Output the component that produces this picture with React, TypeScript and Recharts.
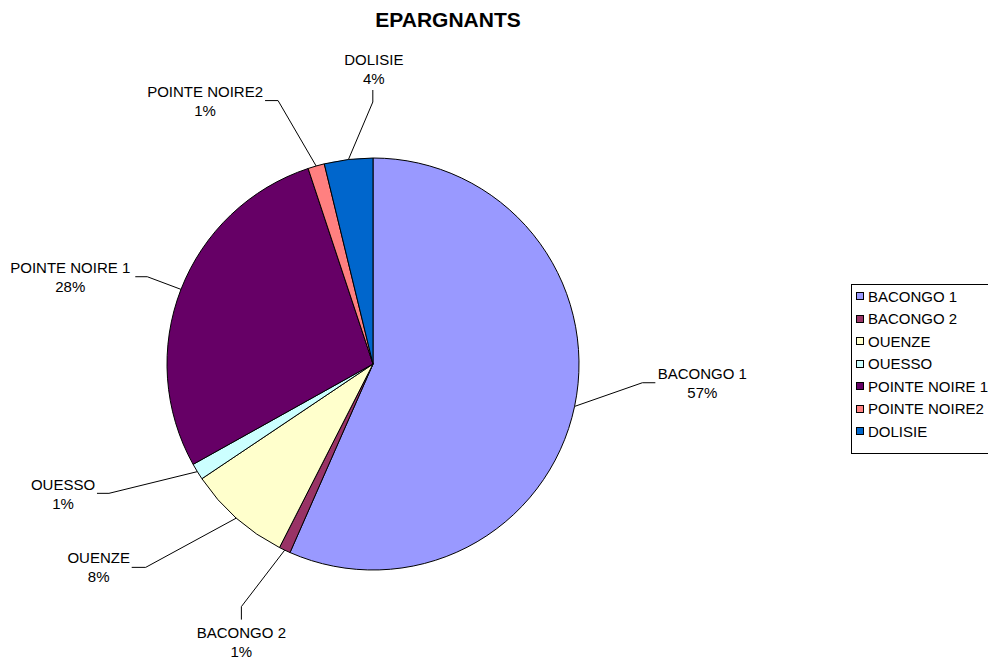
import React from "react";
import {Legend, Pie, PieChart} from "recharts";

const regions = ["BACONGO 1", "BACONGO 2", "OUENZE", "OUESSO", "POINTE NOIRE 1", "POINTE NOIRE2", "DOLISIE"];
const shares = [56.6, 0.9, 8.1, 1.3, 28.0, 1.3, 3.8];
const colors = ["#9999FF", "#993366", "#FFFFCC", "#CCFFFF", "#660066", "#FF8080", "#0066CC"];

// leader lines: angle nudge off the slice middle, elbow radius, tail, label centre from elbow
const labelLayout = [
  {nudge: -7.9, radius: 270, tail: [13, 0], text: [60, -9]},
  {nudge: 3.1, radius: 276, tail: [0, 13], text: [0, 26]},
  {nudge: 6.6, radius: 305, tail: [-14, 0], text: [-47, -9]},
  {nudge: 5.4, radius: 294, tail: [-12, 0], text: [-46, -8]},
  {nudge: -0.1, radius: 242, tail: [-12, 0], text: [-77, -9]},
  {nudge: -3.8, radius: 280, tail: [-13, 0], text: [-73, -9]},
  {nudge: 6.8, radius: 262, tail: [0, -12], text: [1, -42]},
];

const pieData = regions.map((name, i) => ({name, value: shares[i], fill: colors[i]}));

const FONT = "'Liberation Sans', Arial, sans-serif";

const polar = (cx: number, cy: number, r: number, deg: number) => {
  const a = (deg * Math.PI) / 180;
  return {x: cx + r * Math.sin(a), y: cy - r * Math.cos(a)};
};

const renderLabel = (props: any) => {
  const {cx, cy, midAngle, outerRadius, percent, name, index} = props;
  const layout = labelLayout[index];
  const angle = 90 - midAngle; // clockwise from 12 o'clock
  const start = polar(cx, cy, outerRadius, angle);
  const elbow = polar(cx, cy, layout.radius, angle + layout.nudge);
  const end = {x: elbow.x + layout.tail[0], y: elbow.y + layout.tail[1]};
  const tx = elbow.x + layout.text[0];
  const ty = elbow.y + layout.text[1];

  return (
    <g>
      <polyline points={`${start.x},${start.y} ${elbow.x},${elbow.y} ${end.x},${end.y}`} fill="none" stroke="#000" strokeWidth={1} />
      <text x={tx} y={ty} textAnchor="middle" fontFamily={FONT} fontSize={15} fill="#000">
        <tspan x={tx} dy={5}>{name}</tspan>
        <tspan x={tx} dy={19}>{`${Math.round(percent * 100)}%`}</tspan>
      </text>
    </g>
  );
};

const LegendBox = ({payload}: any) => {
  const items = [...(payload || [])].sort((a: any, b: any) => regions.indexOf(a.value) - regions.indexOf(b.value));
  return (
    <div style={{border: "1px solid #000", padding: "0 40px 10px 4px", background: "#fff", fontFamily: FONT, fontSize: 15, whiteSpace: "nowrap"}}>
      {items.map((item: any) => (
        <div key={item.value} style={{display: "flex", alignItems: "center", height: 22.5}}>
          <span style={{display: "inline-block", width: 6, height: 6, border: "1px solid #000", background: item.color, marginRight: 4}} />
          <span>{item.value}</span>
        </div>
      ))}
    </div>
  );
};

export default function App() {
  return (
    <div style={{position: "absolute", left: 0, top: 0, width: 988, height: 658, overflow: "hidden", background: "#fff"}}>
      <div style={{position: "absolute", left: 0, top: 8, width: 896, textAlign: "center", fontFamily: FONT, fontWeight: "bold", fontSize: 21}}>
        EPARGNANTS
      </div>
      <PieChart width={988} height={658} margin={{top: 0, right: 0, bottom: 0, left: 0}}>
        <Pie
          data={pieData}
          dataKey="value"
          nameKey="name"
          cx={373}
          cy={364}
          outerRadius={206}
          startAngle={90}
          endAngle={-270}
          stroke="#000"
          strokeWidth={1}
          label={renderLabel}
          labelLine={false}
          isAnimationActive={false}
        />
        <Legend content={LegendBox} layout="vertical" wrapperStyle={{left: 851, top: 284, width: 220}} />
      </PieChart>
    </div>
  );
}
